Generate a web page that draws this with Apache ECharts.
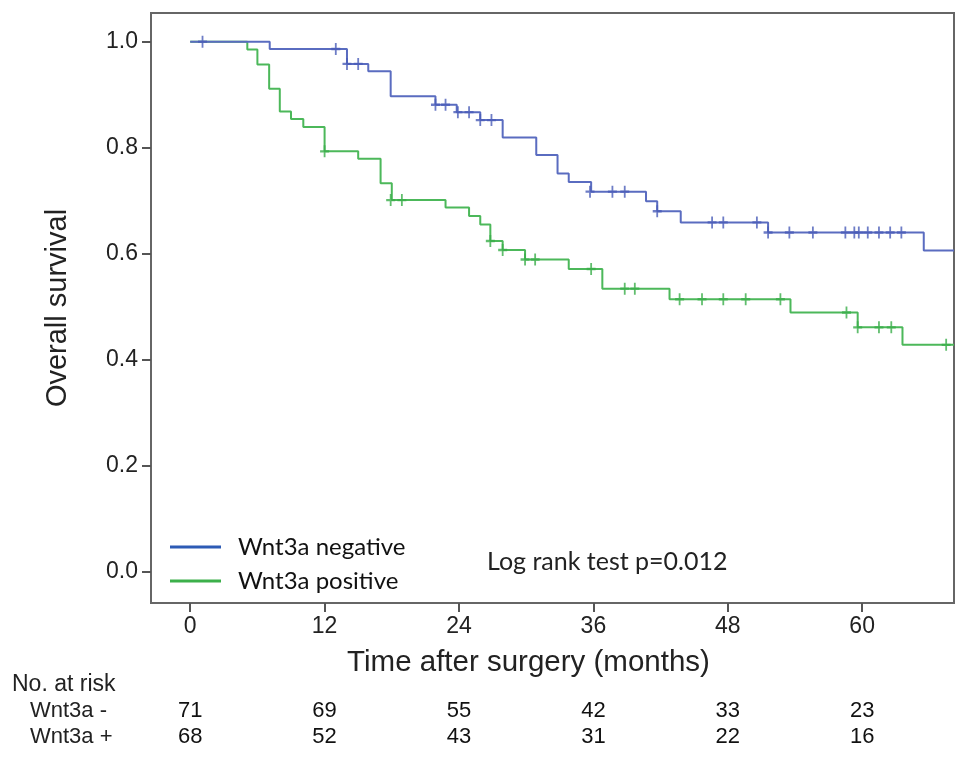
<!DOCTYPE html>
<html>
<head>
<meta charset="utf-8">
<script src="https://cdn.jsdelivr.net/npm/echarts@6/dist/echarts.min.js"></script>
<style>
html,body{margin:0;padding:0;background:#fff;}
#c{width:969px;height:758px;}
</style>
</head>
<body>
<div id="c"></div>
<script>
// Kaplan-Meier step points (time in months, survival)
const negTimes = [0, 7.1, 14.0, 15.9, 17.9, 21.9, 23.8, 25.9, 27.9, 30.9, 32.8, 33.8, 35.8, 40.7, 41.7, 43.8, 51.6, 65.5, 68.2];
const negSurv  = [1.0, 0.986, 0.958, 0.944, 0.897, 0.881, 0.867, 0.852, 0.819, 0.786, 0.751, 0.735, 0.717, 0.699, 0.680, 0.659, 0.640, 0.606, 0.606];
const posTimes = [0, 5.1, 6.0, 7.05, 8.0, 9.0, 10.1, 12.0, 15.0, 17.0, 18.0, 22.8, 24.9, 25.9, 26.8, 27.9, 29.9, 33.8, 36.8, 42.8, 53.6, 59.6, 63.6, 68.2];
const posSurv  = [1.0, 0.985, 0.957, 0.911, 0.868, 0.854, 0.839, 0.793, 0.779, 0.733, 0.701, 0.687, 0.671, 0.655, 0.624, 0.607, 0.589, 0.571, 0.534, 0.514, 0.489, 0.461, 0.428, 0.428];
// Censored observations
const negCensTimes = [1.1, 13.0, 14.0, 15.0, 21.9, 22.8, 23.9, 24.9, 25.9, 26.9, 35.7, 37.7, 38.8, 41.7, 46.6, 47.6, 50.6, 51.6, 53.5, 55.6, 58.5, 59.3, 59.7, 60.5, 61.5, 62.5, 63.5];
const negCensSurv  = [1.0, 0.986, 0.958, 0.958, 0.881, 0.881, 0.867, 0.867, 0.852, 0.852, 0.717, 0.717, 0.717, 0.680, 0.659, 0.659, 0.659, 0.640, 0.640, 0.640, 0.640, 0.640, 0.640, 0.640, 0.640, 0.640, 0.640];
const posCensTimes = [12.0, 17.9, 18.9, 26.8, 27.9, 29.9, 30.8, 35.8, 38.8, 39.7, 43.7, 45.7, 47.6, 49.6, 52.7, 58.6, 59.6, 61.5, 62.6, 67.5];
const posCensSurv  = [0.793, 0.701, 0.701, 0.624, 0.607, 0.589, 0.589, 0.571, 0.534, 0.534, 0.514, 0.514, 0.514, 0.514, 0.514, 0.489, 0.461, 0.461, 0.461, 0.428];
// Axis ticks
const xTicks = [0, 12, 24, 36, 48, 60];
const yTicks = [0, 0.2, 0.4, 0.6, 0.8, 1.0];
// Number at risk table
const riskNeg = [71, 69, 55, 42, 33, 23];
const riskPos = [68, 52, 43, 31, 22, 16];
const seriesNames = ['Wnt3a negative', 'Wnt3a positive'];
const riskRowLabels = ['No. at risk', 'Wnt3a -', 'Wnt3a +'];
const pText = 'Log rank test p=0.012';

const zip = (a, b) => a.map((v, i) => [v, b[i]]);
const XMIN = -3.5, XMAX = 68.2, YMIN = -0.059, YMAX = 1.054;
const plusPath = 'path://M4,0h2v4h4v2h-4v4h-2v-4h-4v-2h4z';
const sansFont = '"Liberation Sans", Arial, sans-serif';
const calFont = 'Lato, "Open Sans", sans-serif';

function riskAxis(arr, offset) {
  return {
    type: 'value', min: XMIN, max: XMAX, position: 'bottom', offset: offset,
    axisLine: { show: false, onZero: false }, axisTick: { show: false }, splitLine: { show: false },
    axisLabel: {
      customValues: xTicks, margin: 0, fontSize: 22, color: '#111',
      fontFamily: '"Liberation Sans Narrow", "Liberation Sans", sans-serif',
      verticalAlign: 'top',
      formatter: v => { const i = xTicks.indexOf(Math.round(v)); return i >= 0 ? String(arr[i]) : ''; }
    }
  };
}

const chart = echarts.init(document.getElementById('c'));
chart.setOption({
  backgroundColor: '#fff',
  animation: false,
  grid: { left: 151, right: 15, top: 13, bottom: 155, show: true, borderColor: '#666', borderWidth: 2, backgroundColor: 'transparent' },
  legend: {
    orient: 'vertical', left: 165, top: 530, itemGap: 10, itemWidth: 51, itemHeight: 3, icon: 'rect',
    textStyle: { fontSize: 24, color: '#111', fontFamily: calFont, padding: [0, 0, 0, 12] },
    data: [
      { name: seriesNames[0], itemStyle: { color: '#2d5bb5' } },
      { name: seriesNames[1], itemStyle: { color: '#3cb04a' } }
    ]
  },
  xAxis: [
    {
      type: 'value', min: XMIN, max: XMAX, position: 'bottom',
      axisLine: { show: false, onZero: false },
      splitLine: { show: false },
      axisTick: { show: true, inside: false, customValues: xTicks, length: 9, lineStyle: { color: '#555', width: 2 } },
      axisLabel: { customValues: xTicks, margin: 12, fontSize: 23, color: '#222', fontFamily: sansFont, verticalAlign: 'top' },
      name: 'Time after surgery (months)', nameLocation: 'middle', nameGap: 45,
      nameTextStyle: { fontSize: 29.5, color: '#222', fontFamily: sansFont, padding: [0, 48, 0, 0] }
    },
    riskAxis(riskNeg, 97),
    riskAxis(riskPos, 123)
  ],
  yAxis: {
    type: 'value', min: YMIN, max: YMAX, position: 'left',
    axisLine: { show: false, onZero: false },
    splitLine: { show: false },
    axisTick: { show: true, inside: false, customValues: yTicks, length: 9, lineStyle: { color: '#555', width: 2 } },
    axisLabel: { customValues: yTicks, margin: 13, fontSize: 23, color: '#222', fontFamily: sansFont, formatter: v => v.toFixed(1) },
    name: 'Overall survival', nameLocation: 'middle', nameGap: 79,
    nameTextStyle: { fontSize: 29, color: '#222', fontFamily: sansFont }
  },
  graphic: [
    { type: 'text', left: 487, top: 549, style: { text: pText, fill: '#222', font: '25px ' + calFont } },
    { type: 'text', left: 12, top: 673, style: { text: riskRowLabels[0], fill: '#222', font: '23px "Liberation Sans Narrow", "Liberation Sans", sans-serif' } },
    { type: 'text', left: 30, top: 700, style: { text: riskRowLabels[1], fill: '#222', font: '22px "Liberation Sans Narrow", "Liberation Sans", sans-serif' } },
    { type: 'text', left: 30, top: 726, style: { text: riskRowLabels[2], fill: '#222', font: '22px "Liberation Sans Narrow", "Liberation Sans", sans-serif' } }
  ],
  series: [
    {
      name: seriesNames[0], type: 'line', step: 'end', showSymbol: false, z: 3,
      data: zip(negTimes, negSurv),
      lineStyle: { color: '#5a6cc0', width: 2 }, itemStyle: { color: '#5a6cc0' }
    },
    {
      name: seriesNames[1], type: 'line', step: 'end', showSymbol: false, z: 2,
      data: zip(posTimes, posSurv),
      lineStyle: { color: '#4cb85a', width: 2 }, itemStyle: { color: '#4cb85a' }
    },
    {
      name: seriesNames[0] + ' censored', type: 'scatter', symbol: plusPath, symbolSize: [9, 12], z: 4,
      data: zip(negCensTimes, negCensSurv), itemStyle: { color: '#4a5db8' }
    },
    {
      name: seriesNames[1] + ' censored', type: 'scatter', symbol: plusPath, symbolSize: [9, 12], z: 4,
      data: zip(posCensTimes, posCensSurv), itemStyle: { color: '#3aae4a' }
    }
  ]
});
</script>
</body>
</html>
